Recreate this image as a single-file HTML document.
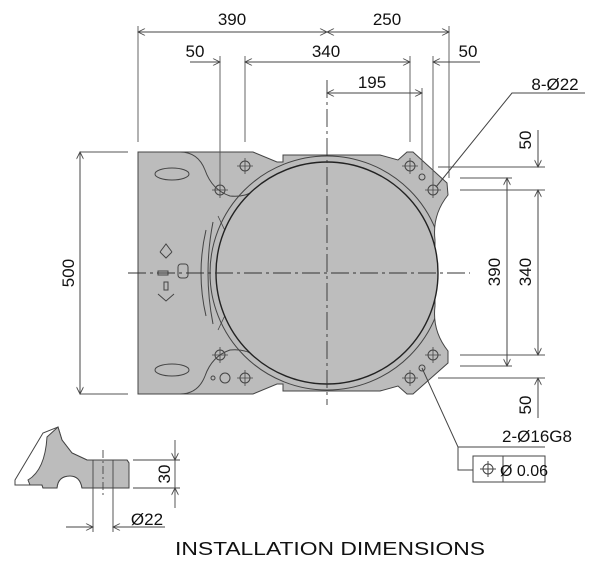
<!DOCTYPE html>
<html><head><meta charset="utf-8"><style>
html,body{margin:0;padding:0;background:#fff;}
svg{display:block;}
text{font-family:"Liberation Sans",sans-serif;fill:#111;}
</style></head><body>
<svg width="600" height="570" viewBox="0 0 600 570" xmlns="http://www.w3.org/2000/svg">
<defs>
<marker id="a" viewBox="0 0 10 10" refX="10" refY="5" markerWidth="9" markerHeight="7" orient="auto-start-reverse" markerUnits="userSpaceOnUse">
<path d="M0,0 L10,5 L0,10" fill="none" stroke="#444" stroke-width="1.2"/></marker>
<clipPath id="pc"><path d="M138,152 L253,152 L277,162 L283,162 L283,155 L380,155 L398,160 L407,152 L413,152 L447,183 L448,195 Q432,215 435,240 L435,306 Q432,331 448,351 L448,363 L413,394 L407,394 L398,386 L380,391 L283,391 L283,384 L277,384 L253,394 L138,394 Z"/></clipPath>
</defs>
<path d="M138,152 L253,152 L277,162 L283,162 L283,155 L380,155 L398,160 L407,152 L413,152 L447,183 L448,195 Q432,215 435,240 L435,306 Q432,331 448,351 L448,363 L413,394 L407,394 L398,386 L380,391 L283,391 L283,384 L277,384 L253,394 L138,394 Z" fill="#bcbcbc" stroke="#444" stroke-width="1"/>
<path d="M180,152 Q198,152 205,170 Q212,190 230,196 Q250,198 262,184" fill="none" stroke="#444" stroke-width="1"/>
<path d="M180,394 Q198,394 205,376 Q212,356 230,350 Q250,348 262,362" fill="none" stroke="#444" stroke-width="1"/>
<path d="M206,230 Q196,273 206,316" fill="none" stroke="#444" stroke-width="1"/>
<path d="M213,222 Q203,273 213,324" fill="none" stroke="#444" stroke-width="1"/>
<path d="M218,216 L238,258 M218,330 L238,288" fill="none" stroke="#444" stroke-width="0.8"/>
<g clip-path="url(#pc)"><circle cx="327" cy="273" r="117" fill="none" stroke="#444" stroke-width="1"/></g>
<circle cx="327" cy="273" r="111" fill="#bdbdbd" stroke="#222" stroke-width="1.4"/>
<ellipse cx="172" cy="174" rx="17" ry="6" fill="none" stroke="#444"/>
<ellipse cx="172" cy="370" rx="17" ry="6" fill="none" stroke="#444"/>
<g fill="none" stroke="#444" stroke-width="1">
<circle cx="245" cy="166" r="5"/><circle cx="220" cy="190" r="5"/>
<circle cx="220" cy="355" r="5"/><circle cx="245" cy="378" r="5"/>
<circle cx="410" cy="166" r="5"/><circle cx="433" cy="190" r="5"/>
<circle cx="433" cy="355" r="5"/><circle cx="410" cy="378" r="5"/>
<circle cx="422" cy="177" r="3"/><circle cx="422" cy="368" r="3"/>
<circle cx="225" cy="378" r="5"/><circle cx="213" cy="378" r="2"/>
<rect x="178" y="264" width="10" height="14" rx="3"/>
<path d="M160,252 l6,-8 l6,8 M160,252 l6,6 l6,-6 M158,294 l8,7 l8,-7 M164,282 h4 v8 h-4z M158,271 h10 v4 h-10z"/>
</g>
<g stroke="#333" stroke-width="0.9" stroke-dasharray="18,4,3,4">
<line x1="128" y1="273" x2="470" y2="273"/>
<line x1="327" y1="80" x2="327" y2="405"/>
</g>
<g stroke="#444" stroke-width="0.8">
<path d="M237,166 h16 M245,158 v16 M212,190 h16 M220,182 v16 M212,355 h16 M220,347 v16 M237,378 h16 M245,370 v16 M402,166 h16 M410,158 v16 M425,190 h16 M433,182 v16 M425,355 h16 M433,347 v16 M402,378 h16 M410,370 v16"/>
</g>
<g stroke="#555" stroke-width="0.9" fill="none">
<line x1="138" y1="26" x2="138" y2="142"/>
<line x1="449" y1="26" x2="449" y2="178"/>
<line x1="220" y1="56" x2="220" y2="185"/>
<line x1="245" y1="56" x2="245" y2="142"/>
<line x1="410" y1="56" x2="410" y2="142"/>
<line x1="433" y1="56" x2="433" y2="185"/>
<line x1="422" y1="88" x2="422" y2="170"/>
<line x1="80" y1="152" x2="128" y2="152"/><line x1="80" y1="394" x2="128" y2="394"/>
<line x1="438" y1="167" x2="545" y2="167"/><line x1="460" y1="190" x2="545" y2="190"/>
<line x1="460" y1="355" x2="545" y2="355"/><line x1="438" y1="378" x2="545" y2="378"/>
<line x1="460" y1="178" x2="512" y2="178"/><line x1="460" y1="366" x2="512" y2="366"/>
</g>
<g stroke="#444" stroke-width="1" fill="none">
<line x1="138" y1="32" x2="327" y2="32" marker-start="url(#a)" marker-end="url(#a)"/>
<line x1="327" y1="32" x2="449" y2="32" marker-start="url(#a)" marker-end="url(#a)"/>
<line x1="190" y1="62" x2="220" y2="62" marker-end="url(#a)"/>
<line x1="245" y1="62" x2="410" y2="62" marker-start="url(#a)" marker-end="url(#a)"/>
<line x1="480" y1="62" x2="433" y2="62" marker-end="url(#a)"/>
<line x1="327" y1="93" x2="422" y2="93" marker-start="url(#a)" marker-end="url(#a)"/>
<line x1="80" y1="152" x2="80" y2="394" marker-start="url(#a)" marker-end="url(#a)"/>
<line x1="507" y1="178" x2="507" y2="366" marker-start="url(#a)" marker-end="url(#a)"/>
<line x1="538" y1="190" x2="538" y2="355" marker-start="url(#a)" marker-end="url(#a)"/>
<line x1="538" y1="130" x2="538" y2="167" marker-end="url(#a)"/>
<line x1="538" y1="418" x2="538" y2="378" marker-end="url(#a)"/>
<path d="M436,187 L512,93 L585,93"/>
<path d="M422,368 L458,447 L545,447 M458,447 L458,470 L473,470"/>
<rect x="473" y="456" width="72" height="26"/>
<line x1="503" y1="456" x2="503" y2="482"/>
<circle cx="488" cy="469" r="5"/><path d="M480,469 h16 M488,461 v16"/>
</g>
<g font-size="17">
<text x="232" y="25" text-anchor="middle">390</text>
<text x="387" y="25" text-anchor="middle">250</text>
<text x="195" y="57" text-anchor="middle">50</text>
<text x="326" y="57" text-anchor="middle">340</text>
<text x="468" y="57" text-anchor="middle">50</text>
<text x="372" y="88" text-anchor="middle">195</text>
<text x="555" y="90" text-anchor="middle">8-Ø22</text>
<text x="537" y="442" text-anchor="middle">2-Ø16G8</text>
<text x="524" y="476" text-anchor="middle" font-size="16">Ø 0.06</text>
<text transform="translate(74,273) rotate(-90)" text-anchor="middle">500</text>
<text transform="translate(500,272) rotate(-90)" text-anchor="middle">390</text>
<text transform="translate(531,272) rotate(-90)" text-anchor="middle">340</text>
<text transform="translate(531,140) rotate(-90)" text-anchor="middle">50</text>
<text transform="translate(531,405) rotate(-90)" text-anchor="middle">50</text>
<text transform="translate(170,474) rotate(-90)" text-anchor="middle">30</text>
<text x="147" y="525" text-anchor="middle">Ø22</text>
</g>
<path d="M15,480 L43,433 L58,427 L62,440 L72,453 L87,460 L127,460 L129,463 L129,488 L82,488 Q80,476 70,476 Q58,476 57,488 L43,488 L42,485 L15,485 Z" fill="#fff" stroke="#444"/>
<path d="M47,437 L58,427 L62,440 L72,453 L87,460 L127,460 L129,463 L129,488 L82,488 Q80,476 70,476 Q58,476 57,488 L43,488 L42,485 L30,485 L28,480 Q45,470 47,437 Z" fill="#bcbcbc" stroke="#444"/>
<g stroke="#444" stroke-width="0.9" fill="none">
<line x1="93" y1="460" x2="93" y2="532"/><line x1="113" y1="460" x2="113" y2="532"/>
<line x1="103" y1="450" x2="103" y2="498" stroke-dasharray="8,3,2,3"/>
<line x1="133" y1="460" x2="180" y2="460"/><line x1="133" y1="488" x2="180" y2="488"/>
<line x1="175" y1="440" x2="175" y2="460" marker-end="url(#a)"/>
<line x1="175" y1="508" x2="175" y2="488" marker-end="url(#a)"/>
<line x1="175" y1="460" x2="175" y2="488"/>
<line x1="66" y1="527" x2="93" y2="527" marker-end="url(#a)"/>
<line x1="165" y1="527" x2="113" y2="527" marker-end="url(#a)"/>
</g>
<text x="175" y="555" font-size="18" textLength="310" lengthAdjust="spacingAndGlyphs">INSTALLATION DIMENSIONS</text>
</svg>
</body></html>
